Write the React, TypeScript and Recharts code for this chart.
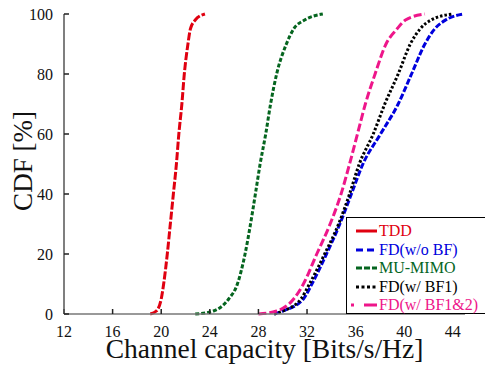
import { LineChart, Line, XAxis, YAxis, Legend, Label } from "recharts";

// CDF levels (%) and the capacity reached at each level
const cdfLevels = [0, 1, 5, 10, 20, 30, 40, 50, 60, 70, 80, 90, 95, 98, 100];
const tdd = [19.1, 19.6, 20.0, 20.2, 20.5, 20.75, 21.0, 21.25, 21.45, 21.7, 21.9, 22.2, 22.4, 22.8, 23.6];
const fdNoBf = [29.3, 30.0, 31.7, 32.4, 33.6, 34.7, 35.65, 36.6, 38.05, 39.5, 40.6, 41.7, 42.5, 43.4, 44.9];
const muMimo = [22.8, 24.3, 25.55, 26.27, 26.9, 27.35, 27.75, 28.14, 28.6, 29.0, 29.5, 30.3, 30.9, 31.8, 33.3];
const fdBf1 = [29.3, 30.0, 31.5, 32.2, 33.45, 34.6, 35.5, 36.3, 37.45, 38.4, 39.5, 40.5, 41.3, 42.2, 44.0];
const fdBf12 = [28.0, 29.5, 30.9, 31.7, 32.8, 33.9, 34.8, 35.5, 36.15, 36.8, 37.6, 38.5, 39.4, 40.1, 41.7];

const xTicks = [12, 16, 20, 24, 28, 32, 36, 40, 44];
const yTicks = [0, 20, 40, 60, 80, 100];

const FONT = "'Liberation Serif', 'Times New Roman', serif";

const series = [
  { name: "TDD", values: tdd, color: "#e00010", dash: "8 2", key: "3 0" },
  { name: "FD(w/o BF)", values: fdNoBf, color: "#0000dd", dash: "6 2", key: "7 4" },
  { name: "MU-MIMO", values: muMimo, color: "#05651f", dash: "4 2", key: "6 2" },
  { name: "FD(w/ BF1)", values: fdBf1, color: "#000000", dash: "2.5 2", key: "3 2.5" },
  { name: "FD(w/ BF1&2)", values: fdBf12, color: "#ee168a", dash: "8 3", key: "3 10 13" },
];

const toPoints = (values: number[]) => values.map((x, i) => ({ x, y: cdfLevels[i] }));

const tickStyle = { fontFamily: FONT, fontSize: 16, fill: "#111" };
const noTick = () => <g />;

function LegendBox() {
  return (
    <div
      style={{
        boxSizing: "border-box",
        width: 145,
        height: 97,
        border: "1px solid #000",
        background: "#fff",
        paddingTop: 4,
        fontFamily: FONT,
        fontSize: 16,
      }}
    >
      {series.map((s) => (
        <div key={s.name} style={{ display: "flex", alignItems: "center", height: 18.5 }}>
          <svg width={32} height={10} style={{ flex: "none" }}>
            <line
              x1={s.name === "FD(w/ BF1&2)" ? 4 : 9}
              x2={30}
              y1={5}
              y2={5}
              stroke={s.color}
              strokeWidth={3}
              strokeDasharray={s.key}
            />
          </svg>
          <span style={{ color: s.color, lineHeight: "18px", whiteSpace: "nowrap" }}>{s.name}</span>
        </div>
      ))}
    </div>
  );
}

export default function App() {
  return (
    <div style={{ position: "absolute", left: 0, top: 0, background: "#fff" }}>
      <LineChart width={485} height={368} margin={{ top: 14, right: 20, bottom: 0, left: 0 }}>
        <XAxis
          xAxisId="b"
          dataKey="x"
          type="number"
          domain={[12, 45]}
          ticks={xTicks}
          allowDataOverflow
          height={54}
          stroke="#777"
          strokeWidth={1.5}
          tickSize={-5}
          tickMargin={17}
          tickLine={{ stroke: "#222" }}
          tick={tickStyle}
        >
          <Label
            content={() => (
              <text x={264.5} y={358} textAnchor="middle" fontFamily={FONT} fontSize={27.5} fill="#111">
                Channel capacity [Bits/s/Hz]
              </text>
            )}
          />
        </XAxis>
        <XAxis
          xAxisId="t"
          orientation="top"
          type="number"
          domain={[12, 45]}
          ticks={xTicks}
          height={0}
          stroke="#777"
          strokeWidth={1.5}
          tickSize={-5}
          tickLine={{ stroke: "#222" }}
          tick={noTick}
        />
        <YAxis
          yAxisId="l"
          type="number"
          domain={[0, 100]}
          ticks={yTicks}
          width={64}
          stroke="#555"
          strokeWidth={1.5}
          tickSize={-5}
          tickMargin={16}
          tickLine={{ stroke: "#222" }}
          tick={tickStyle}
        >
          <Label
            content={() => (
              <text
                x={23}
                y={161}
                transform="rotate(-90 23 161)"
                textAnchor="middle"
                dominantBaseline="central"
                fontFamily={FONT}
                fontSize={27}
                fill="#111"
              >
                CDF [%]
              </text>
            )}
          />
        </YAxis>
        <YAxis
          yAxisId="r"
          orientation="right"
          type="number"
          domain={[0, 100]}
          ticks={yTicks}
          width={0}
          stroke="#555"
          strokeWidth={1.5}
          tickSize={-5}
          tickLine={{ stroke: "#222" }}
          tick={noTick}
        />
        {series.map((s) => (
          <Line
            key={s.name}
            xAxisId="b"
            yAxisId="l"
            data={toPoints(s.values)}
            dataKey="y"
            name={s.name}
            type="monotone"
            stroke={s.color}
            strokeWidth={3}
            strokeDasharray={s.dash}
            dot={false}
            isAnimationActive={false}
          />
        ))}
        <Legend
          layout="vertical"
          align="center"
          verticalAlign="middle"
          wrapperStyle={{ left: 346, top: 217, width: 145, height: 97 }}
          content={() => <LegendBox />}
        />
      </LineChart>
    </div>
  );
}
